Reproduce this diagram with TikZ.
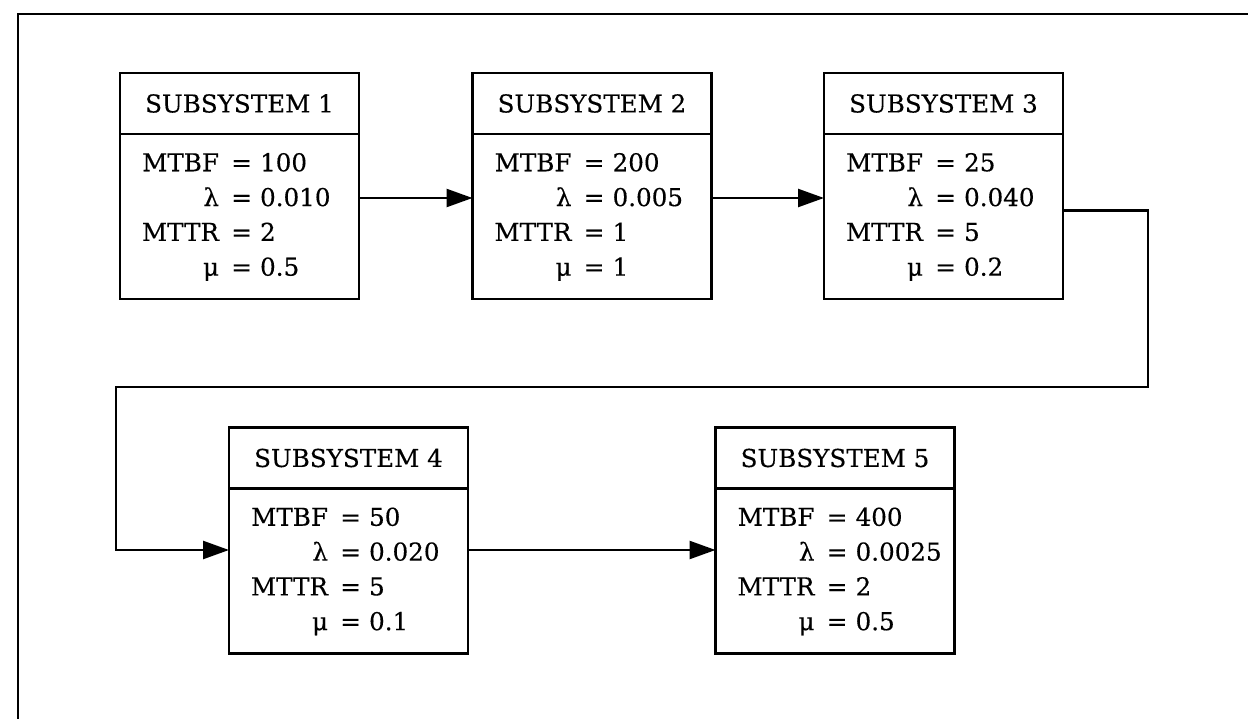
\documentclass[tikz,border=0pt]{standalone}
\usepackage{fontspec}
\setmainfont{DejaVu Serif}
\newfontfamily\boxfont{DejaVu Serif}[FakeBold=0.3]
\usetikzlibrary{positioning,arrows.meta}

\newcommand{\rates}[4]{%
  \begin{tabular}{@{}r@{\hspace{7pt}}l@{}}
  MTBF & = #1\\
  λ & = #2\\
  MTTR & = #3\\
  μ & = #4
  \end{tabular}}

\begin{document}
\begin{tikzpicture}
\useasboundingbox (0,0) rectangle (24.96,-14.38);
\tikzstyle{head}=[rectangle, draw, line width=1.4pt, outer sep=0pt, minimum width=4.78cm, minimum height=1.22cm, font=\boxfont\fontsize{14}{19.8}\selectfont]
\tikzstyle{body}=[rectangle, draw, line width=1.4pt, outer sep=0pt, minimum width=4.78cm, minimum height=3.3cm, text width=3.9cm, inner xsep=0.44cm, align=left, font=\boxfont\fontsize{14}{19.8}\selectfont]
\tikzstyle{flow}=[line width=1.4pt, -{Triangle[length=0.52cm,width=0.36cm]}]

% frame
\draw[line width=1.4pt] (0.36,-14.38) -- (0.36,-0.28) -- (24.96,-0.28);

\node[head] (h1) at (4.79,-2.07) {SUBSYSTEM 1};
\node[body, below=0pt of h1] (b1) {\rates{100}{0.010}{2}{0.5}};
\node[head] (h2) at (11.84,-2.07) {SUBSYSTEM 2};
\node[body, below=0pt of h2] (b2) {\rates{200}{0.005}{1}{1}};
\node[head] (h3) at (18.87,-2.07) {SUBSYSTEM 3};
\node[body, below=0pt of h3] (b3) {\rates{25}{0.040}{5}{0.2}};
\node[head] (h4) at (6.97,-9.16) {SUBSYSTEM 4};
\node[body, below=0pt of h4] (b4) {\rates{50}{0.020}{5}{0.1}};
\node[head] (h5) at (16.7,-9.16) {SUBSYSTEM 5};
\node[body, below=0pt of h5] (b5) {\rates{400}{0.0025}{2}{0.5}};

\coordinate (r) at (22.96,-7.74);
\coordinate (l) at (2.32,-11.0);

\draw[flow] ([yshift=0.37cm]b1.east) -- ([yshift=0.37cm]b2.west);
\draw[flow] ([yshift=0.37cm]b2.east) -- ([yshift=0.37cm]b3.west);
\draw[flow] ([yshift=0.12cm]b3.east) -| (r) -| (l) -- (l -| b4.west);
\draw[flow] (l -| b4.east) -- (l -| b5.west);
\end{tikzpicture}
\end{document}
